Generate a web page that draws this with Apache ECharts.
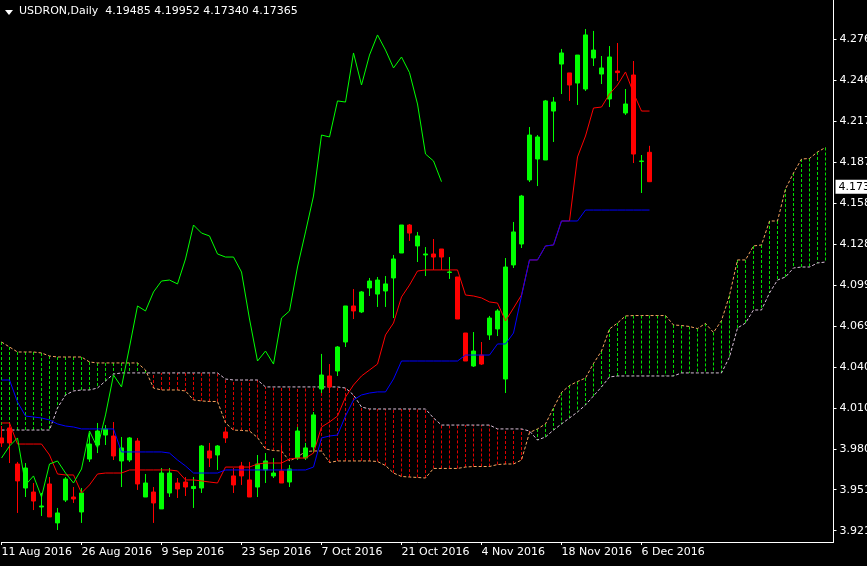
<!DOCTYPE html>
<html>
<head>
<meta charset="utf-8">
<script src="https://cdn.jsdelivr.net/npm/echarts@6/dist/echarts.min.js"></script>
<style>
html,body{margin:0;padding:0;background:#000;}
#chart{width:867px;height:566px;}
</style>
</head>
<body>
<div id="chart"></div>
<script>
// ---------- DATA ----------
const symbolTitle = 'USDRON,Daily';
const xTickLabels = ['11 Aug 2016','26 Aug 2016','9 Sep 2016','23 Sep 2016','7 Oct 2016','21 Oct 2016','4 Nov 2016','18 Nov 2016','6 Dec 2016'];
const xTickEvery = 10;
const totalSlots = 105; // 82 price bars + future cloud bars
const yTickValues = [3.92190,3.95144,3.98098,4.01052,4.04006,4.06960,4.09914,4.12868,4.15822,4.18776,4.21730,4.24684,4.27638];

const opens = [3.9888,3.9960,3.9700,3.9527,3.9498,3.9390,3.9556,3.9275,3.9440,3.9462,
3.9354,3.9736,3.9837,3.9909,3.9902,3.9722,3.9729,3.9866,3.9462,3.9498,
3.9376,3.9491,3.9563,3.9570,3.9523,3.9527,3.9794,3.9765,3.9931,3.9614,
3.9686,3.9585,3.9534,3.9657,3.9614,3.9650,3.9570,3.9743,3.9743,3.9823,
4.0241,4.0335,4.0371,4.0580,4.0840,4.0797,4.0970,4.0926,4.0948,4.1042,
4.1222,4.1424,4.1273,4.1208,4.1215,4.1251,4.1082,4.1049,4.0645,4.0407,
4.0486,4.0631,4.0674,4.0313,4.1136,4.1287,4.1749,4.1900,4.1893,4.2246,
4.2585,4.2521,4.2448,4.2405,4.2629,4.2513,4.2333,4.2535,4.2232,4.2506,
4.1882,4.19485];
const closes = [3.9852,3.9852,3.9578,3.9671,3.9433,3.9397,3.9318,3.9347,3.9592,3.9448,
3.9491,3.9844,3.9938,3.9953,3.9758,3.9816,3.9888,3.9556,3.9563,3.9419,
3.9635,3.9635,3.9520,3.9534,3.9538,3.9830,3.9743,3.9830,3.9888,3.9549,
3.9614,3.9462,3.9700,3.9722,3.9635,3.9563,3.9664,3.9938,3.9816,4.0054,
4.0342,4.0256,4.0544,4.0840,4.0804,4.0941,4.1020,4.1027,4.0999,4.1179,
4.1424,4.1366,4.1345,4.1215,4.1193,4.1193,4.1085,4.0746,4.0443,4.0515,
4.0421,4.0753,4.0804,4.1121,4.1374,4.1633,4.2073,4.2059,4.2319,4.2311,
4.2665,4.2434,4.2650,4.2795,4.2686,4.2557,4.2636,4.2523,4.2297,4.1936,
4.1886,4.17365];
const lows = [3.9823,3.9707,3.9347,3.9462,3.9368,3.9325,3.9318,3.9224,3.9426,3.9419,
3.9275,3.9715,3.9779,3.9837,3.9729,3.9534,3.9715,3.9513,3.9462,3.9275,
3.9376,3.9462,3.9455,3.9469,3.9383,3.9491,3.9678,3.9657,3.9852,3.9491,
3.9549,3.9462,3.9462,3.9563,3.9599,3.9563,3.9534,3.9729,3.9729,3.9779,
4.0212,4.0212,4.0335,4.0544,4.0746,4.0789,4.0912,4.0833,4.0833,4.0753,
4.1222,4.1309,4.1157,4.1056,4.1100,4.1100,4.1035,4.0746,4.0443,4.0400,
4.0414,4.0595,4.0623,4.0212,4.1114,4.1258,4.1734,4.1705,4.1893,4.2023,
4.2369,4.2319,4.2290,4.2391,4.2571,4.2441,4.2275,4.2463,4.2218,4.1871,
4.1655,4.17340];
const highs = [3.9974,3.9996,3.9715,3.9707,3.9563,3.9491,3.9606,3.9383,3.9606,3.9534,
3.9527,3.9924,3.9996,3.9981,4.0003,3.9895,3.9895,3.9888,3.9628,3.9534,
3.9671,3.9671,3.9599,3.9606,3.9606,3.9837,3.9852,3.9837,3.9967,3.9671,
3.9715,3.9715,3.9765,3.9779,3.9743,3.9837,3.9693,3.9967,3.9852,4.0075,
4.0494,4.0421,4.0551,4.0840,4.0962,4.0948,4.1042,4.1049,4.1056,4.1208,
4.1424,4.1431,4.1374,4.1265,4.1323,4.1251,4.1193,4.1049,4.0645,4.0652,
4.0580,4.0768,4.0818,4.1186,4.1446,4.1641,4.2131,4.2073,4.2326,4.2347,
4.2694,4.2521,4.2650,4.2838,4.2824,4.2643,4.2715,4.2737,4.2405,4.2607,
4.1929,4.19952];

const tenkan = [3.9996,3.9996,3.9844,3.9844,3.9844,3.9844,3.9765,3.9628,3.9621,3.9621,
3.9491,3.9549,3.9628,3.9635,3.9635,3.9635,3.9657,3.9657,3.9657,3.9657,
3.9657,3.9657,3.9650,3.9585,3.9585,3.9578,3.9570,3.9563,3.9678,3.9678,
3.9678,3.9678,3.9700,3.9707,3.9707,3.9707,3.9736,3.9743,3.9743,3.9779,
3.9967,4.0003,4.0046,4.0183,4.0270,4.0335,4.0378,4.0421,4.0631,4.0717,
4.0905,4.0991,4.1092,4.1100,4.1100,4.1100,4.1100,4.1100,4.0919,4.0912,
4.0898,4.0869,4.0861,4.0732,4.0825,4.0919,4.1172,4.1172,4.1273,4.1280,
4.1453,4.1453,4.1915,4.2066,4.2268,4.2275,4.2369,4.2434,4.2528,4.2376,
4.2246,4.2246];
const kijun = [4.0306,4.0306,4.0147,4.0046,4.0039,4.0032,4.0018,3.9989,3.9974,3.9967,
3.9953,3.9953,3.9953,3.9953,3.9953,3.9787,3.9787,3.9787,3.9787,3.9787,
3.9787,3.9779,3.9729,3.9686,3.9635,3.9635,3.9635,3.9635,3.9657,3.9657,
3.9657,3.9657,3.9657,3.9657,3.9657,3.9657,3.9657,3.9657,3.9657,3.9678,
3.9888,3.9902,3.9909,4.0046,4.0162,4.0198,4.0212,4.0220,4.0220,4.0313,
4.0443,4.0443,4.0443,4.0443,4.0443,4.0443,4.0443,4.0443,4.0486,4.0486,
4.0486,4.0486,4.0566,4.0566,4.0645,4.0912,4.1172,4.1172,4.1273,4.1280,
4.1453,4.1453,4.1453,4.1532,4.1532,4.1532,4.1532,4.1532,4.1532,4.1532,
4.1532,4.1532];
const chikouShift = 26;
const spanA = [4.0580,4.0544,4.0508,4.0508,4.0508,4.0501,4.0479,4.0472,4.0472,4.0472,
4.0472,4.0436,4.0429,4.0429,4.0429,4.0429,4.0429,4.0429,4.0378,4.0248,
4.0234,4.0234,4.0234,4.0227,4.0162,4.0155,4.0151,4.0151,3.9996,3.9945,
3.9942,3.9938,3.9891,3.9808,3.9797,3.9794,3.9722,3.9751,3.9790,3.9794,
3.9794,3.9711,3.9722,3.9722,3.9722,3.9722,3.9722,3.9718,3.9689,3.9635,
3.9610,3.9606,3.9603,3.9599,3.9668,3.9668,3.9668,3.9668,3.9678,3.9682,
3.9682,3.9682,3.9696,3.9700,3.9700,3.9729,3.9927,3.9953,3.9989,4.0104,
4.0216,4.0266,4.0295,4.0320,4.0425,4.0515,4.0674,4.0717,4.0768,4.0771,
4.0771,4.0771,4.0771,4.0771,4.0703,4.0699,4.0692,4.0677,4.0714,4.0649,
4.0735,4.0916,4.1172,4.1172,4.1273,4.1280,4.1453,4.1453,4.1684,4.1799,
4.1900,4.1904,4.1951,4.1983];
const spanB = [3.9945,3.9945,3.9945,3.9945,3.9945,3.9945,3.9945,4.0104,4.0198,4.0227,
4.0234,4.0234,4.0248,4.0299,4.0349,4.0357,4.0357,4.0357,4.0357,4.0357,
4.0357,4.0357,4.0357,4.0357,4.0357,4.0357,4.0357,4.0357,4.0313,4.0306,
4.0306,4.0306,4.0306,4.0256,4.0256,4.0256,4.0256,4.0256,4.0256,4.0256,
4.0256,4.0256,4.0256,4.0248,4.0198,4.0111,4.0097,4.0097,4.0097,4.0097,
4.0097,4.0097,4.0097,4.0097,4.0032,3.9981,3.9981,3.9981,3.9981,3.9981,
3.9981,3.9981,3.9953,3.9953,3.9953,3.9953,3.9938,3.9873,3.9895,3.9945,
3.9989,4.0032,4.0075,4.0126,4.0191,4.0256,4.0328,4.0335,4.0335,4.0335,
4.0335,4.0335,4.0335,4.0335,4.0335,4.0357,4.0357,4.0357,4.0357,4.0357,
4.0357,4.0472,4.0681,4.0717,4.0811,4.0811,4.0934,4.1027,4.1049,4.1114,
4.1121,4.1121,4.1150,4.1157];

// ---------- STYLE ----------
const FONT = 'DejaVu Sans';
const C = {
  bg:'#000000', fg:'#ffffff', bull:'#00ff00', bear:'#ff0000',
  tenkan:'#ff0000', kijun:'#0000ff', chikou:'#00ff00',
  spanA:'#f4a460', spanB:'#d8bfd8', hatchUp:'#00e000', hatchDown:'#e00000'
};

const categories = Array.from({length: totalSlots}, (_, i) => String(i));
const candleData = opens.map((o, i) => [o, closes[i], lows[i], highs[i]]);
const chikou = closes.slice(chikouShift);
const cloudData = spanA.map((a, i) => [i, a, spanB[i]]);
const last = opens.length - 1;
const showTick = (i) => i % xTickEvery === 0 && i / xTickEvery < xTickLabels.length;

const chart = echarts.init(document.getElementById('chart'), null, {renderer:'canvas'});
chart.setOption({
  animation: false,
  backgroundColor: C.bg,
  textStyle: {fontFamily: FONT},
  title: {
    text: symbolTitle + '  ' + [opens[last], highs[last], lows[last], closes[last]].map(v => v.toFixed(5)).join(' '),
    left: 19, top: 6, padding: 0,
    textStyle: {color: C.fg, fontSize: 11, fontWeight: 'normal', fontFamily: FONT}
  },
  graphic: [{
    type: 'polygon', shape: {points: [[5,10],[13,10],[9,15]]}, style: {fill: C.fg}
  }],
  grid: {left: 1.5, right: 33.5, top: 0, bottom: 24, containLabel: false, outerBoundsMode: 'none'},
  xAxis: {
    type: 'category', data: categories, boundaryGap: false,
    axisLine: {show: true, lineStyle: {color: C.fg, width: 1}},
    axisTick: {show: true, interval: (i) => showTick(i), length: 3, lineStyle: {color: C.fg}},
    axisLabel: {
      interval: (i) => showTick(i), align: 'left', margin: 5,
      color: C.fg, fontSize: 11, fontFamily: FONT,
      formatter: (v, i) => xTickLabels[i / xTickEvery] || ''
    },
    splitLine: {show: false}
  },
  yAxis: {
    type: 'value', position: 'right', scale: true,
    min: 3.91374, max: 4.30471,
    axisLine: {show: true, lineStyle: {color: C.fg, width: 1}},
    axisTick: {show: true, length: 3, customValues: yTickValues, lineStyle: {color: C.fg}},
    axisLabel: {customValues: yTickValues, margin: 6, color: C.fg, fontSize: 11, fontFamily: FONT,
      formatter: (v) => v.toFixed(5)},
    splitLine: {show: false}
  },
  series: [
    {
      type: 'custom', name: 'cloud', z: 1, clip: true,
      data: cloudData,
      encode: {x: 0, y: [1, 2]},
      renderItem: (params, api) => {
        const k = api.value(0), a = api.value(1), b = api.value(2);
        const p1 = api.coord([k, a]);
        const p2 = api.coord([k, b]);
        return {
          type: 'line',
          shape: {x1: p1[0], y1: p1[1], x2: p1[0], y2: p2[1]},
          style: {stroke: a >= b ? C.hatchUp : C.hatchDown, lineWidth: 1, lineDash: [3, 2]}
        };
      }
    },
    {type: 'line', name: 'Senkou A', data: spanA, z: 2, symbol: 'none',
      lineStyle: {color: C.spanA, width: 1, type: [3, 2]}},
    {type: 'line', name: 'Senkou B', data: spanB, z: 2, symbol: 'none',
      lineStyle: {color: C.spanB, width: 1, type: [3, 2]}},
    {
      type: 'candlestick', name: 'USDRON', data: candleData, z: 3, clip: false,
      barWidth: 5,
      itemStyle: {color: C.bull, color0: C.bear, borderColor: C.bull, borderColor0: C.bear, borderWidth: 1},
      markLine: {
        silent: true, symbol: ['none', 'none'],
        lineStyle: {color: 'rgba(0,0,0,0)', width: 0},
        data: [{yAxis: closes[last]}],
        label: {show: true, position: 'end', distance: 2, formatter: () => closes[last].toFixed(5),
          backgroundColor: '#ffffff', color: '#000000', fontSize: 11, fontFamily: FONT, padding: [2, 2, 1, 3]}
      }
    },
    {type: 'line', name: 'Tenkan', data: tenkan, z: 4, symbol: 'none',
      lineStyle: {color: C.tenkan, width: 1}},
    {type: 'line', name: 'Kijun', data: kijun, z: 4, symbol: 'none',
      lineStyle: {color: C.kijun, width: 1}},
    {type: 'line', name: 'Chikou', data: chikou, z: 4, symbol: 'none',
      lineStyle: {color: C.chikou, width: 1}}
  ]
});
</script>
</body>
</html>
